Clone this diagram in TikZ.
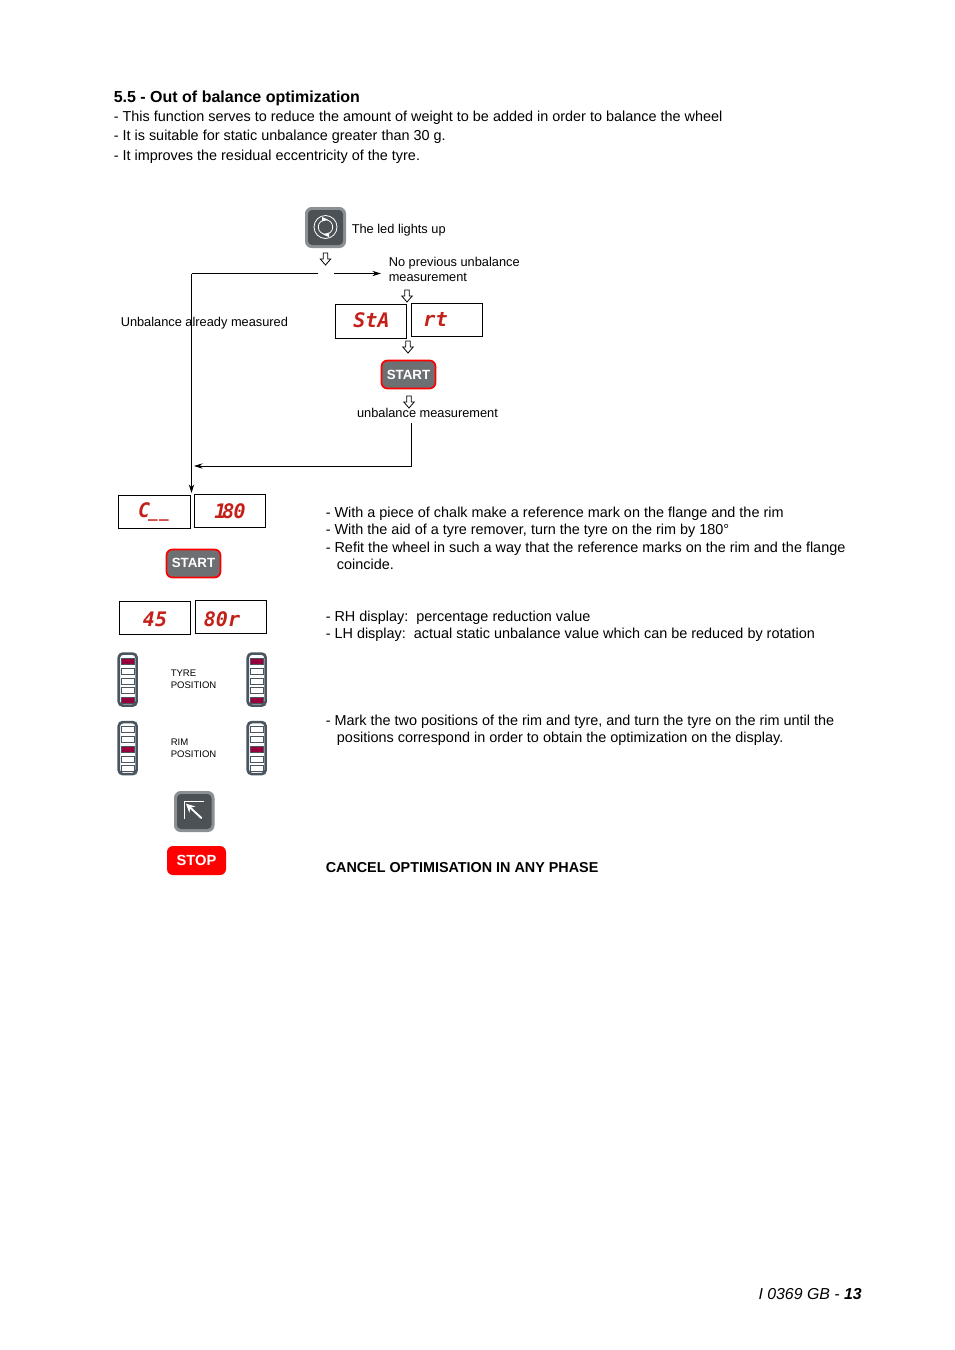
\documentclass[tikz,border=0pt]{standalone}
\usepackage{fontspec}
\setmainfont{Liberation Sans}
\newfontfamily\ledfont{DejaVu Sans Mono}
\usetikzlibrary{arrows.meta}
\definecolor{ledred}{HTML}{C4201A}
\definecolor{barframe}{HTML}{4A5560}
\definecolor{barred}{HTML}{96003C}
\definecolor{btnedge}{HTML}{8A9094}
\definecolor{btnfill}{HTML}{4C5155}
\definecolor{startfill}{HTML}{6D7073}
\tikzset{
  x=0.75pt,y=-0.75pt,
  body/.style={inner sep=0pt,anchor=base west,font=\fontsize{10.82pt}{13pt}\selectfont},
  flowtext/.style={inner sep=0pt,anchor=base west,font=\fontsize{9.6pt}{12pt}\selectfont},
  small/.style={inner sep=0pt,anchor=base west,font=\fontsize{7.15pt}{9pt}\selectfont},
  ledbox/.style={draw=black,line width=0.75pt,fill=white},
  led/.style={inner sep=0pt,text=ledred,font=\ledfont\bfseries\itshape\fontsize{15pt}{15pt}\selectfont},
  flow/.style={line width=0.6pt,draw=black},
  tip/.style={-{Stealth[length=6.5pt,width=4pt]}},
  hollow/.style={draw=black,fill=white,line width=0.6pt,line join=miter},
  startbtn/.style={draw=red,line width=1.3pt,fill=startfill,rounded corners=4.5pt},
  btnlabel/.style={inner sep=0pt,text=white,font=\bfseries\fontsize{10pt}{12pt}\selectfont},
  cell/.style={draw=barframe,line width=0.5pt,fill=white},
  lit/.style={draw=barframe,line width=0.5pt,fill=barred},
  bar/.style={draw=barframe,line width=2pt,fill=white,rounded corners=3pt},
  keyedge/.style={fill=btnedge,rounded corners=5pt},
  keyface/.style={fill=btnfill,rounded corners=3pt},
}
% hollow down arrow centred on x, top at y
\newcommand{\hollowarrow}[3]{%
  \coordinate (#1) at (#2,#3);
  \path[hollow] (#2-2.2,#3) -- (#2+2.2,#3) -- (#2+2.2,#3+6) -- (#2+5.2,#3+6) -- (#2,#3+12) -- (#2-5.2,#3+6) -- (#2-2.2,#3+6) -- cycle;}
% led bar: x, top of frame, list of cell top/style
\newcommand{\ledbar}[3]{%
  \path[bar] (#1+1.8,#2+1.6) rectangle (#1+19.6,#2+53.6);
  \foreach \cy/\st in {#3} {\path[\st] (#1+4.5,\cy) rectangle (#1+17.5,\cy+6);}
}
\begin{document}
\begin{tikzpicture}
\useasboundingbox (0,0) rectangle (954,1350);
\fill[white] (0,0) rectangle (954,1350);

% heading
\node[body,font=\bfseries\fontsize{12pt}{14pt}\selectfont] (title) at (113.5,102) {5.5 - Out of balance optimization};
\node[body] (l1) at (113.5,121) {- This function serves to reduce the amount of weight to be added in order to balance the wheel};
\node[body] (l2) at (113.5,140.5) {- It is suitable for static unbalance greater than 30 g.};
\node[body] (l3) at (113.5,160) {- It improves the residual eccentricity of the tyre.};

% flow connectors first, so that text sits over them
\coordinate (jn) at (191.5,273.5);
\coordinate (gapL) at (318,273.5);
\coordinate (gapR) at (334,273.5);
\coordinate (noprev) at (381,273.5);
\coordinate (c180) at (191.5,493);
\coordinate (umfoot) at (411.5,423);
\coordinate (umcorner) at (411.5,466);
\coordinate (umend) at (194,466);
\draw[flow] (gapL) -- (jn);
\draw[flow,tip] (jn) -- (c180);
\draw[flow,tip] (gapR) -- (noprev);
\draw[flow,tip] (umfoot) -- (umcorner) -- (umend);

% top key
\path[keyedge] (305,207) rectangle (346,248);
\path[keyface] (308,210) rectangle (343,245);
\draw[white,line width=0.6pt] (325.5,227) circle (11.5);
\draw[white,line width=0.6pt] (325.5,227) circle (7.2);
\fill[white] (322,217) -- (328,219.5) -- (322,221.5) -- cycle;
\fill[white] (329,237) -- (323,234.5) -- (329,232.5) -- cycle;
\node[flowtext] (ledup) at (351.5,233.5) {The led lights up};

\hollowarrow{a1}{325.5}{253}
\node[flowtext] (np1) at (388.5,266) {No previous unbalance};
\node[flowtext] (np2) at (388.5,281.5) {measurement};
\node[flowtext] (already) at (120.5,326.5) {Unbalance already measured};
\hollowarrow{a2}{407}{290}

\path[ledbox] (335.5,304.5) rectangle (406.5,338.5);
\path[ledbox] (411.5,303.5) rectangle (482.5,336.5);
\node[led] (sta) at (371.5,320.5) {StA};
\node[led] (rt) at (435.5,319.5) {rt};
\hollowarrow{a3}{408}{341}

\path[startbtn] (381.5,360.5) rectangle (435.5,388.5);
\node[btnlabel] (start1) at (408.5,374.5) {START};
\hollowarrow{a4}{409}{396}
\node[flowtext] (um) at (356.8,417.5) {unbalance measurement};

% second column displays
\path[ledbox] (118.5,495.5) rectangle (190.5,528.5);
\path[ledbox] (194.5,494.5) rectangle (265.5,527.5);
\node[led] (cc) at (153.5,511.5) {C\kern-1.5pt{\fontsize{12pt}{12pt}\selectfont\_\kern1pt\_}};
\node[led] (d180) at (230,511) {1\kern-3pt 8\kern-0.6pt 0};

\path[startbtn] (166.5,549.5) rectangle (220.5,577.5);
\node[btnlabel] (start2) at (193.5,563) {START};

\path[ledbox] (119.5,601.5) rectangle (190.5,634.5);
\path[ledbox] (195.5,600.5) rectangle (266.5,633.5);
\node[led] (d45) at (155,619) {45};
\node[led] (d80) at (222,619.5) {80r};

% position bars
\ledbar{117}{652}{658.5/lit,668/cell,678/cell,687.5/cell,697.5/lit}
\ledbar{246}{652}{658.5/lit,668/cell,678/cell,687.5/cell,697.5/lit}
\ledbar{117}{720.5}{726.5/cell,736.5/cell,746.5/lit,756/cell,765.5/cell}
\ledbar{246}{720.5}{726.5/cell,736.5/cell,746.5/lit,756/cell,765.5/cell}
\node[small] (ty1) at (170.5,676) {TYRE};
\node[small] (ty2) at (170.5,688) {POSITION};
\node[small] (ri1) at (170.5,745) {RIM};
\node[small] (ri2) at (170.5,757) {POSITION};

% home key
\path[keyedge] (174,791) rectangle (214.5,832);
\path[keyface] (177,794) rectangle (211.5,829);
\draw[white,line width=0.7pt] (184,819) -- (184,801.7) -- (204.3,801.7);
\draw[white,line width=1.4pt,-{Stealth[length=6.5pt,width=6.5pt]}] (201.7,818.3) -- (186,803.7);

% stop key
\path[fill=red,rounded corners=4.5pt] (167,846) rectangle (226,875);
\node[btnlabel,font=\bfseries\fontsize{11pt}{13pt}\selectfont] (stop) at (196.5,860.5) {STOP};

% right text
\node[body] (r1) at (325.5,517) {- With a piece of chalk make a reference mark on the flange and the rim};
\node[body] (r2) at (325.5,534.5) {- With the aid of a tyre remover, turn the tyre on the rim by 180°};
\node[body] (r3) at (325.5,552) {- Refit the wheel in such a way that the reference marks on the rim and the flange};
\node[body] (r4) at (336.7,569) {coincide.};
\node[body] (r5) at (325.5,621) {- RH display:\ \ percentage reduction value};
\node[body] (r6) at (325.5,638) {- LH display:\ \ actual static unbalance value which can be reduced by rotation};
\node[body] (r7) at (325.5,725) {- Mark the two positions of the rim and tyre, and turn the tyre on the rim until the};
\node[body] (r8) at (336.7,742) {positions correspond in order to obtain the optimization on the display.};
\node[body,font=\bfseries\fontsize{10.77pt}{13pt}\selectfont] (cancel) at (325.5,872) {CANCEL OPTIMISATION IN ANY PHASE};
\node[body,font=\itshape\fontsize{11.9pt}{14pt}\selectfont,anchor=base east] (foot) at (862,1299) {I 0369 GB - \textbf{13}};
\end{tikzpicture}
\end{document}
